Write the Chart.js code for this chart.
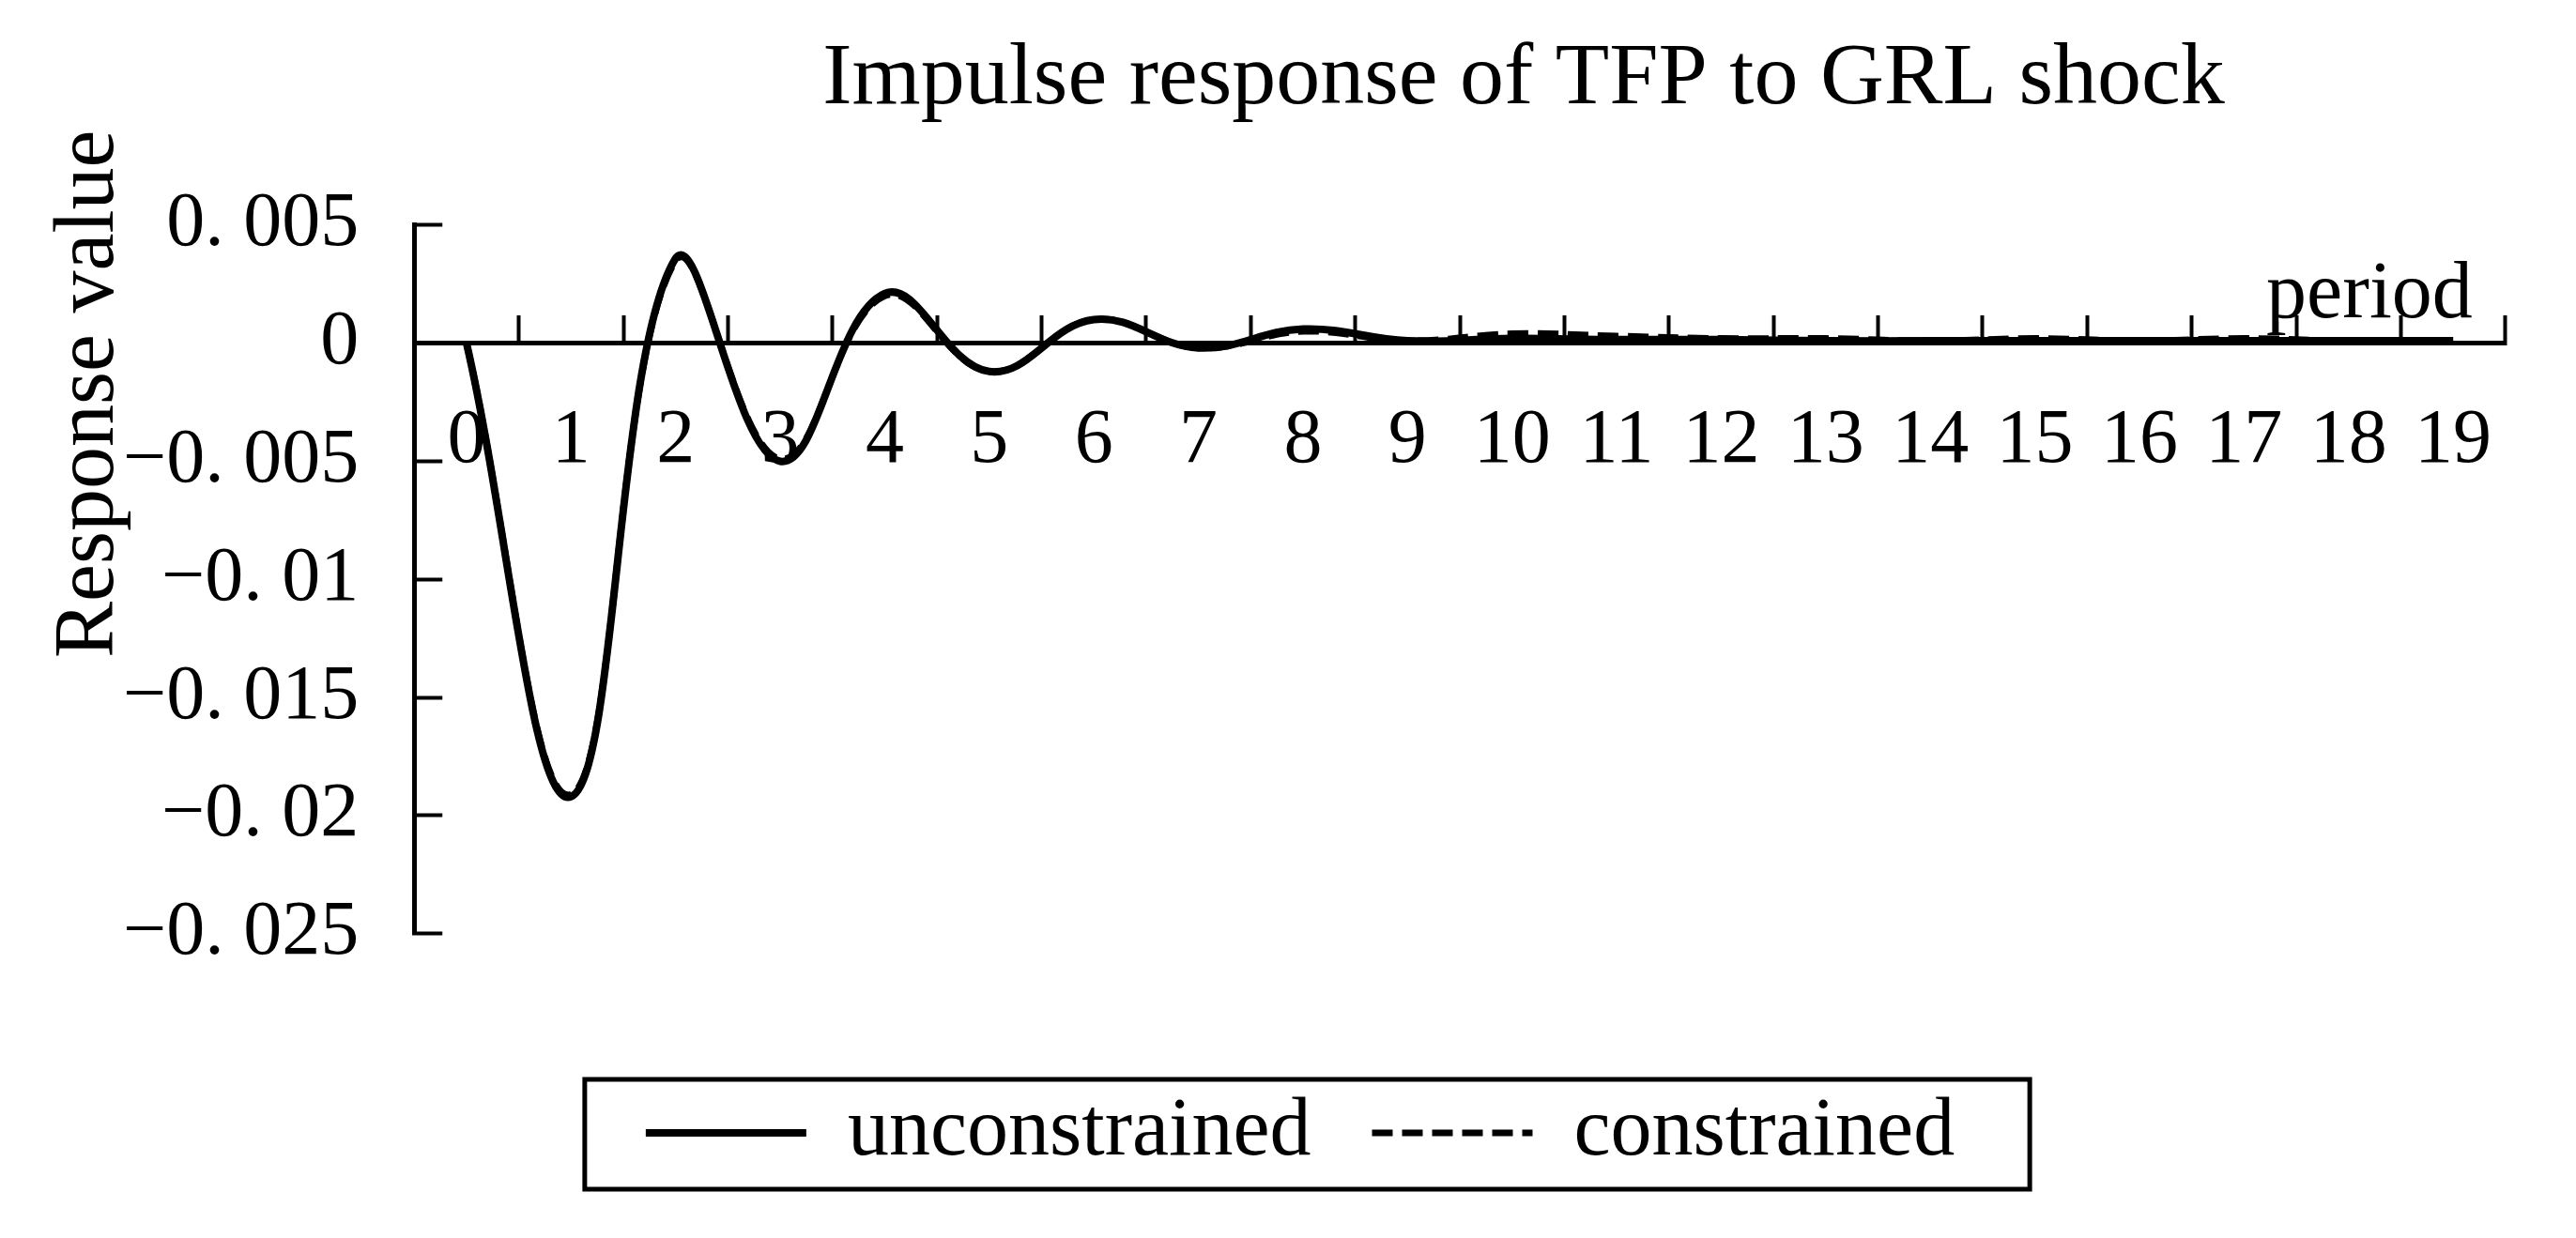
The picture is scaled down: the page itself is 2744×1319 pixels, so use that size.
<!DOCTYPE html>
<html>
<head>
<meta charset="utf-8">
<title>Impulse response of TFP to GRL shock</title>
<script src="https://cdn.jsdelivr.net/npm/chart.js@4.4.1/dist/chart.umd.min.js"></script>
<style>
  html, body { margin: 0; padding: 0; background: #fff; }
  #wrap { width: 2744px; height: 1319px; }
</style>
</head>
<body>
<div id="wrap"><canvas id="irfChart"></canvas></div>
<script>
// periods on the x axis
const periods = ['0', '1', '2', '3', '4', '5', '6', '7', '8', '9',
                 '10', '11', '12', '13', '14', '15', '16', '17', '18', '19'];

// response values
const unconstrained = [0, -0.0192, 0.0036, -0.0050, 0.0021, -0.0012, 0.0010, -0.0002, 0.0006, 0.0001,
                       0.0002, 0.00015, 0.00015, 0.0001, 0.0001, 0.0001, 0.0001, 0.0001, 0.0001, 0.0001];
const constrained = [0, -0.0191, 0.0035, -0.0049, 0.0020, -0.0012, 0.0010, -0.0002, 0.0005, 0.0001,
                     0.0004, 0.0003, 0.0002, 0.0002, 0.0001, 0.0002, 0.0001, 0.0002, 0.0001, 0.0001];

// y axis ticks as printed
const yTickValues = [-0.025, -0.02, -0.015, -0.01, -0.005, 0, 0.005];
const yTickLabels = ['\u22120. 025', '\u22120. 02', '\u22120. 015', '\u22120. 01', '\u22120. 005', '0', '0. 005'];

const chartTitle = 'Impulse response of TFP to GRL shock';
const yAxisTitle = 'Response value';
const xAxisTitle = 'period';
const seriesNames = ['unconstrained', 'constrained'];

const FONT = '"Liberation Serif", "DejaVu Serif", serif';
Chart.defaults.font.family = FONT;
Chart.defaults.color = '#000';

// axis captions and the frame round the legend
const extrasPlugin = {
    id: 'extras',
    afterLayout(chart) {
        // title and legend sit a little right of centre in the original
        chart.titleBlock.left += 68;
        chart.titleBlock.right += 68;
        chart.legend.left += 26;
        chart.legend.right += 26;
    },
    afterDraw(chart) {
        const { ctx, chartArea, scales: { x, y } } = chart;
        const zeroY = y.getPixelForValue(0);

        ctx.save();
        ctx.fillStyle = '#000';
        ctx.font = '86px ' + FONT;
        ctx.textAlign = 'right';
        ctx.textBaseline = 'alphabetic';
        ctx.fillText(xAxisTitle, x.right - 35, zeroY - 28);

        ctx.font = '90px ' + FONT;
        ctx.translate(chartArea.left - 345, chartArea.top + 180);
        ctx.rotate(-Math.PI / 2);
        ctx.textAlign = 'center';
        ctx.textBaseline = 'middle';
        ctx.fillText(yAxisTitle, 0, 0);
        ctx.restore();

        // legend frame
        const boxes = chart.legend.legendHitBoxes;
        if (!boxes || !boxes.length) return;
        const left = Math.min(...boxes.map(b => b.left)) - 65;
        const right = Math.max(...boxes.map(b => b.left + b.width)) + 80;
        const top = Math.min(...boxes.map(b => b.top)) - 13;
        const bottom = Math.max(...boxes.map(b => b.top + b.height)) + 16;
        ctx.save();
        ctx.strokeStyle = '#000';
        ctx.lineWidth = 5;
        ctx.strokeRect(left, top, right - left, bottom - top);
        ctx.restore();
    }
};

const ctx = document.getElementById('irfChart').getContext('2d');
const irfChart = new Chart(ctx, {
    type: 'line',
    data: {
        labels: periods,
        datasets: [
            {
                label: seriesNames[0],
                data: unconstrained,
                borderColor: '#000',
                backgroundColor: '#000',
                borderWidth: 8,
                pointRadius: 0,
                tension: 0.4,
                fill: false,
                order: 2
            },
            {
                label: seriesNames[1],
                data: constrained,
                borderColor: '#000',
                backgroundColor: '#000',
                borderWidth: 7,
                borderDash: [22, 10],
                pointRadius: 0,
                tension: 0.4,
                fill: false,
                order: 1
            }
        ]
    },
    options: {
        responsive: true,
        maintainAspectRatio: false,
        animation: false,
        layout: {
            padding: { top: 0, left: 42, right: 68, bottom: 58 }
        },
        scales: {
            x: {
                type: 'category',
                position: { y: 0 },
                offset: true,
                grid: {
                    offset: true,
                    drawOnChartArea: false,
                    drawTicks: true,
                    tickLength: -32,
                    tickWidth: 4,
                    tickColor: '#000'
                },
                border: { display: true, width: 5, color: '#000' },
                ticks: {
                    padding: 88,
                    autoSkip: false,
                    maxRotation: 0,
                    font: { size: 82 },
                    color: '#000'
                }
            },
            y: {
                position: 'left',
                min: -0.025,
                max: 0.005,
                afterBuildTicks: (scale) => {
                    scale.ticks = yTickValues.map(v => ({ value: v }));
                },
                grid: {
                    drawOnChartArea: false,
                    drawTicks: true,
                    tickLength: -30,
                    tickWidth: 4,
                    tickColor: '#000'
                },
                border: { display: true, width: 5, color: '#000' },
                ticks: {
                    padding: 89,
                    font: { size: 82 },
                    color: '#000',
                    callback: function(value) {
                        const i = yTickValues.findIndex(v => Math.abs(v - value) < 1e-9);
                        return i >= 0 ? yTickLabels[i] : '';
                    }
                }
            }
        },
        plugins: {
            title: {
                display: true,
                text: chartTitle,
                fullSize: false,
                color: '#000',
                font: { size: 94, weight: 'normal' },
                padding: { top: 29, bottom: 98 }
            },
            legend: {
                position: 'bottom',
                align: 'center',
                title: {
                    display: true,
                    text: '',
                    font: { size: 1 },
                    padding: { top: 0, bottom: 102 }
                },
                labels: {
                    boxWidth: 171,
                    boxHeight: 0,
                    padding: 65,
                    color: '#000',
                    font: { size: 88 },
                    sort: (a, b) => a.datasetIndex - b.datasetIndex
                }
            },
            tooltip: { enabled: false }
        }
    },
    plugins: [extrasPlugin]
});
</script>
</body>
</html>
